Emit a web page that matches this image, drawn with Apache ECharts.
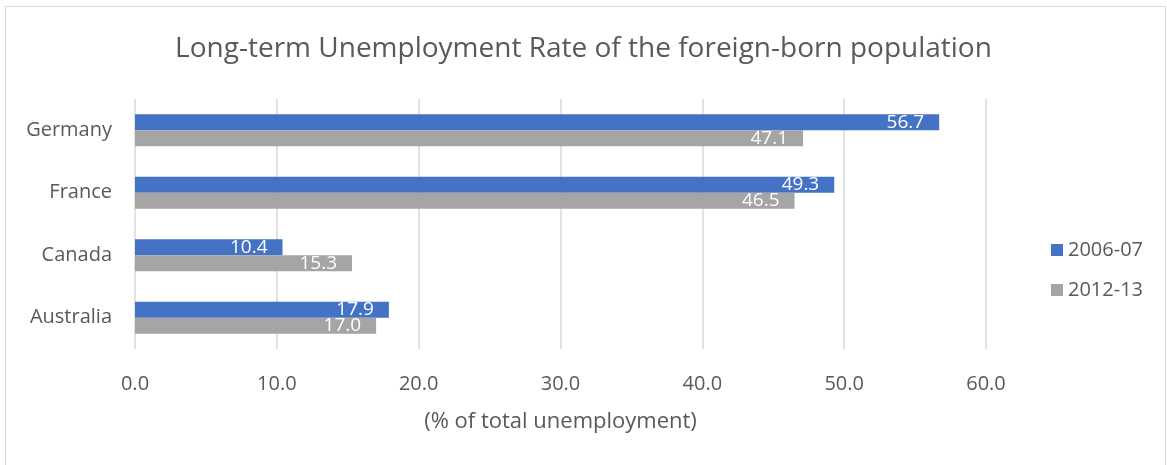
<!DOCTYPE html>
<html><head><meta charset="utf-8">
<script src="https://cdn.jsdelivr.net/npm/echarts@6/dist/echarts.min.js"></script>
<style>html,body{margin:0;padding:0;background:#fff}#c{width:1167px;height:465px}</style>
</head><body><div id="c"></div>
<script>
const categories = ['Australia', 'Canada', 'France', 'Germany'];
const series2006 = [17.9, 10.4, 49.3, 56.7];
const series2012 = [17.0, 15.3, 46.5, 47.1];
const seriesNames = ['2006-07', '2012-13'];
const xTicks = {min: 0, max: 60, interval: 10};

const FONT = 'Open Sans';
const chart = echarts.init(document.getElementById('c'));
chart.setOption({
  animation: false,
  textStyle: {fontFamily: FONT},
  graphic: [{type: 'rect', shape: {x: 5.5, y: 6.5, width: 1160, height: 460}, style: {fill: 'none', stroke: '#D9D9D9', lineWidth: 1}, silent: true}],
  title: {text: 'Long-term Unemployment Rate of the foreign-born population', left: 'center', top: 30,
    textStyle: {fontFamily: FONT, fontWeight: 'normal', fontSize: 28, color: '#595959'}},
  legend: {orient: 'vertical', left: 1046, top: 235, itemWidth: 12, itemHeight: 12, itemGap: 20, icon: 'rect',
    textStyle: {fontFamily: FONT, fontSize: 20, color: '#595959'}},
  grid: {left: 135, right: 181, top: 99, bottom: 116, containLabel: false},
  xAxis: {type: 'value', min: xTicks.min, max: xTicks.max, interval: xTicks.interval,
    name: '(% of total unemployment)', nameLocation: 'middle', nameGap: 62,
    nameTextStyle: {fontFamily: FONT, fontSize: 22, color: '#595959'},
    axisLabel: {formatter: v => v.toFixed(1), fontSize: 20, color: '#595959', margin: 25},
    splitLine: {lineStyle: {color: '#D9D9D9', width: 1.5}},
    axisLine: {show: false}, axisTick: {show: false}},
  yAxis: {type: 'category', data: categories,
    axisLabel: {fontSize: 20, color: '#595959', margin: 23, padding: [3, 0, 0, 0]},
    axisLine: {show: false}, axisTick: {show: false}},
  series: [
    {name: seriesNames[0], type: 'bar', data: series2006, barWidth: 16, barGap: '0%',
      itemStyle: {color: '#4472C4'},
      label: {show: true, position: 'insideRight', distance: 15, color: '#fff', fontSize: 19, formatter: p => p.value.toFixed(1)}},
    {name: seriesNames[1], type: 'bar', data: series2012, barWidth: 16, barGap: '0%',
      itemStyle: {color: '#A5A5A5'},
      label: {show: true, position: 'insideRight', distance: 15, color: '#fff', fontSize: 19, formatter: p => p.value.toFixed(1)}}
  ]
});
</script></body></html>
